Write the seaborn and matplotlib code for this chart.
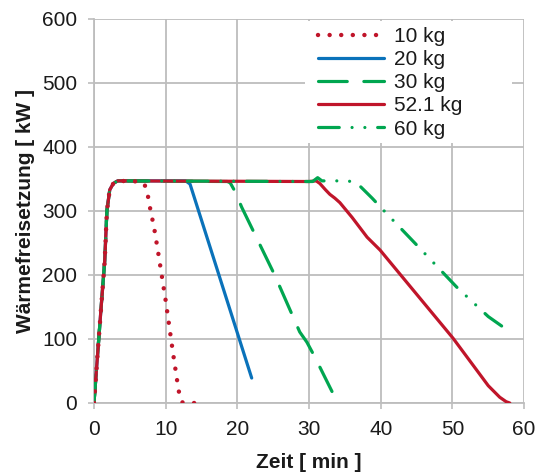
import numpy as np
import pandas as pd
import matplotlib
matplotlib.use("Agg")
import matplotlib.pyplot as plt
from matplotlib.patches import Rectangle
import seaborn as sns

# Heat release curves (time in min, heat release rate in kW)
t_10 = [0, 0.5, 1.0, 1.5, 1.8, 2.2, 2.7, 3.3, 6.5, 7.1, 7.5, 7.8, 8.4, 8.9, 10.0, 11.0, 11.6, 11.9, 12.3, 14.0]
q_10 = [0, 75, 150, 222, 300, 333, 343, 347, 346, 340, 325, 306, 273, 239, 160, 80, 35, 14, 1, 0]

t_20 = [0, 0.5, 1.0, 1.5, 1.8, 2.2, 2.7, 3.3, 12.8, 13.4, 22.0]
q_20 = [0, 75, 150, 222, 300, 333, 343, 347, 347, 342, 39]

t_30 = [0, 0.5, 1.0, 1.5, 1.8, 2.2, 2.7, 3.3, 18.6, 19.0, 19.7, 20.6, 25.2, 28.7, 29.7, 30.8, 33.2]
q_30 = [0, 75, 150, 222, 300, 333, 343, 347, 346, 344, 330, 306, 200, 111, 95, 72, 18]

t_52 = [0, 0.5, 1.0, 1.5, 1.8, 2.2, 2.7, 3.3, 30.0, 31.0, 31.5, 32.3, 32.9, 33.6, 34.3, 36.0,
        38.1, 39.9, 45.0, 50.1, 55.0, 56.6, 57.5, 58.0]
q_52 = [0, 75, 150, 222, 300, 333, 343, 347, 346, 347, 343, 333, 326, 320, 313, 290,
        259, 239, 170, 101, 27, 9, 2, 0]

t_60 = [0, 0.5, 1.0, 1.5, 1.8, 2.2, 2.7, 3.3, 30.5, 31.2, 31.8, 35.0, 36.0, 37.0, 38.8, 40.9,
        45.0, 50.6, 55.0, 56.9, 57.5, 58.0]
q_60 = [0, 75, 150, 222, 300, 333, 343, 347, 346, 352, 347, 347, 346, 340, 320, 295,
        247, 181, 135, 120, 115, 108]

labels = ["10 kg", "20 kg", "30 kg", "52.1 kg", "60 kg"]
x_ticks = [0, 10, 20, 30, 40, 50, 60]
y_ticks = [0, 100, 200, 300, 400, 500, 600]

RED = "#C0152A"
BLUE = "#0A72BA"
GREEN = "#00A650"

sns.set_theme(style="white")
plt.rcParams["font.family"] = ["Liberation Sans", "DejaVu Sans"]

fig = plt.figure(figsize=(5.37, 4.73), dpi=100)
ax = fig.add_axes([0.175, 0.148, 0.801, 0.812])

lw = 2.3
series = [
    (t_10, q_10, RED, (0, (0.01, 2.6)), 3.2),
    (t_20, q_20, BLUE, "-", lw),
    (t_30, q_30, GREEN, (0, (9.0, 5.2)), lw),
    (t_52, q_52, RED, "-", lw),
    (t_60, q_60, GREEN, (0, (6.5, 4.0, 0.01, 4.0, 0.01, 4.0)), lw),
]
# draw the 10 kg dots last so they stay visible on the shared rise
order = [1, 2, 3, 4, 0]
handles = {}
for i in order:
    t, q, c, ls, w = series[i]
    df = pd.DataFrame({"t": t, "q": q})
    sns.lineplot(data=df, x="t", y="q", ax=ax, color=c, linewidth=w,
                 linestyle=ls, sort=False, estimator=None,
                 dash_capstyle="round", solid_capstyle="round", zorder=3 + (i == 0))
    handles[i] = ax.lines[-1]

ax.set_xlim(0, 60)
ax.set_ylim(0, 600)
ax.set_xticks(x_ticks)
ax.set_yticks(y_ticks)
ax.grid(True, color="#BDBDBD", linewidth=1.3)
for s in ["top", "right"]:
    ax.spines[s].set_visible(False)
for s in ["left", "bottom"]:
    ax.spines[s].set_color("#BDBDBD")
    ax.spines[s].set_linewidth(1.3)
ax.tick_params(axis="both", which="major", length=4, width=1.2, color="#BDBDBD",
               labelsize=15, labelcolor="#1a1a1a", direction="out", bottom=True, left=True)
ax.tick_params(axis="y", pad=8)
ax.tick_params(axis="x", pad=8)
ax.set_xlabel("Zeit [ min ]", fontsize=15, fontweight="bold", color="#1a1a1a", labelpad=10)
ax.set_ylabel("Wärmefreisetzung [ kW ]", fontsize=15, fontweight="bold", color="#1a1a1a", labelpad=5)

# white legend area
ax.add_patch(Rectangle((0.49, 0.677), 0.482, 0.318, transform=ax.transAxes,
                       facecolor="white", edgecolor="none", zorder=2.5))

leg = ax.legend([handles[i] for i in range(5)], labels, loc="upper left",
                bbox_to_anchor=(0.51, 0.99), frameon=False, fontsize=15,
                handlelength=3.2, handletextpad=0.45, labelspacing=0.2,
                borderpad=0.2, borderaxespad=0.0)
leg.set_zorder(5)
for txt in leg.get_texts():
    txt.set_color("#1a1a1a")

fig.savefig("out.png", dpi=100)
